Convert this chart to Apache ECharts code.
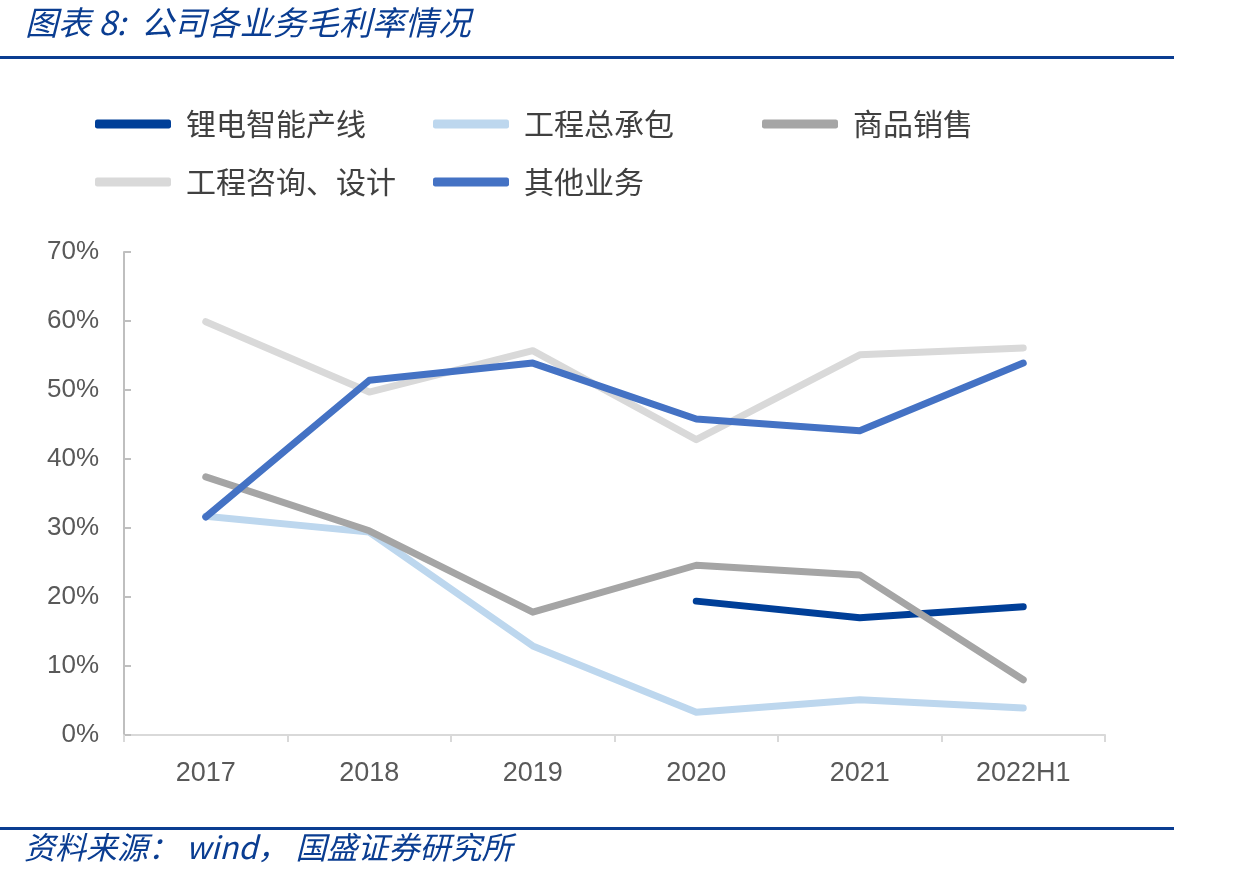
<!DOCTYPE html>
<html>
<head>
<meta charset="utf-8">
<script src="https://cdn.jsdelivr.net/npm/echarts@6/dist/echarts.min.js"></script>
<style>
  html, body { margin: 0; padding: 0; background: #fff; }
  #chart { width: 1235px; height: 881px; }
</style>
</head>
<body>
<div id="chart"></div>
<script>
// 年份
var years = ['2017', '2018', '2019', '2020', '2021', '2022H1'];
// 各业务毛利率 (%)
var lidian = [null, null, null, 19.4, 17.0, 18.6];
var zongchengbao = [31.7, 29.4, 12.9, 3.3, 5.1, 3.9];
var shangpin = [37.4, 29.6, 17.8, 24.6, 23.2, 8.0];
var zixun = [59.9, 49.7, 55.7, 42.8, 55.1, 56.1];
var qita = [31.6, 51.4, 53.9, 45.8, 44.1, 53.9];

var names = ['锂电智能产线', '工程总承包', '商品销售', '工程咨询、设计', '其他业务'];
var colors = ['#003f98', '#bdd7ee', '#a5a5a5', '#d9d9d9', '#4472c4'];
var values = [lidian, zongchengbao, shangpin, zixun, qita];

var cjk = '"Noto Sans CJK SC", sans-serif';
var latin = '"Liberation Sans", Arial, sans-serif';
var legendPos = [[95, 109], [433, 109], [762, 109], [95, 167], [433, 167]];

var myChart = echarts.init(document.getElementById('chart'));

var legends = names.map(function (n, i) {
    return {
        left: legendPos[i][0],
        top: legendPos[i][1],
        padding: 0,
        data: [n],
        icon: 'roundRect',
        itemWidth: 76,
        itemHeight: 9,
        itemGap: 0,
        selectedMode: false,
        textStyle: { fontSize: 30, color: '#404040', fontFamily: cjk, padding: [0, 0, 0, 10] }
    };
});

var series = names.map(function (n, i) {
    return {
        name: n,
        type: 'line',
        symbol: 'none',
        data: values[i],
        itemStyle: { color: colors[i] },
        lineStyle: { color: colors[i], width: 7, cap: 'round', join: 'round' },
        z: i === 4 ? 5 : 2
    };
});

myChart.setOption({
    animation: false,
    title: {
        text: '图表 8:  公司各业务毛利率情况',
        left: 20,
        top: 1,
        textStyle: { fontSize: 33, color: '#0a3d91', fontStyle: 'italic', fontWeight: 'normal', fontFamily: cjk }
    },
    graphic: [
        { type: 'rect', shape: { x: 0, y: 56, width: 1174, height: 3 }, style: { fill: '#0a3d91' } },
        { type: 'rect', shape: { x: 0, y: 827, width: 1174, height: 3 }, style: { fill: '#0a3d91' } },
        {
            type: 'text', left: 24, top: 832,
            style: { text: '资料来源： wind， 国盛证券研究所', fill: '#0a3d91', fontSize: 31, fontStyle: 'italic', fontFamily: cjk }
        }
    ],
    legend: legends,
    grid: { left: 124, right: 130, top: 252, bottom: 146 },
    xAxis: {
        type: 'category',
        data: years,
        boundaryGap: true,
        axisLine: { lineStyle: { color: '#d9d9d9', width: 2 } },
        axisTick: { show: true, length: 7, lineStyle: { color: '#d9d9d9', width: 2 } },
        axisLabel: { fontSize: 27, color: '#595959', margin: 25, fontFamily: latin }
    },
    yAxis: {
        type: 'value',
        min: 0,
        max: 70,
        interval: 10,
        splitLine: { show: false },
        axisLine: { show: true, lineStyle: { color: '#bfbfbf', width: 2 } },
        axisTick: { show: true, inside: true, length: 7, lineStyle: { color: '#bfbfbf', width: 2 } },
        axisLabel: { formatter: '{value}%', fontSize: 26, color: '#595959', margin: 25, fontFamily: latin, padding: [4, 0, 0, 0] }
    },
    series: series
});
</script>
</body>
</html>
